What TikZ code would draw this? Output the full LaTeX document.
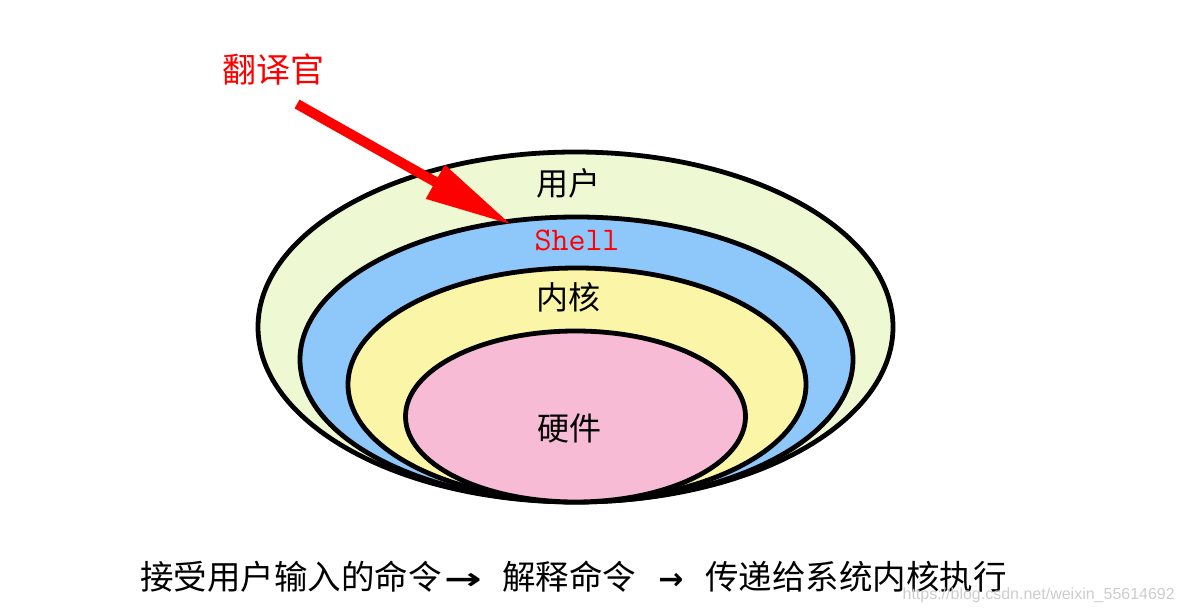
\documentclass[tikz,border=0pt]{standalone}
\usepackage{fontspec}
\usepackage{graphicx}
\newfontfamily\cjk{Noto Sans CJK SC}
\newfontfamily\wmfont{Liberation Sans}
\newfontfamily\arrowfont{DejaVu Sans}
\usetikzlibrary{arrows.meta}
\definecolor{usergreen}{RGB}{238,248,210}
\definecolor{shellblue}{RGB}{142,199,249}
\definecolor{kernelyellow}{RGB}{251,245,168}
\definecolor{hwpink}{RGB}{247,187,213}
\definecolor{wmgray}{RGB}{205,205,205}
\tikzset{
  layer/.style={draw=black, line width=4.8pt},
  lbl/.style={inner sep=0pt, font=\cjk\fontsize{32}{36}\selectfont},
  caption/.style={inner sep=0pt, text depth=0pt, anchor=base west, font=\cjk\fontsize{33.5}{38}\selectfont},
  capArrow/.style={inner sep=0pt, text depth=0pt, anchor=base, font=\arrowfont\bfseries\fontsize{30}{34}\selectfont},
  pointer/.style={draw=red, line width=10pt, -{Triangle[length=88pt,width=36pt]}},
}
\begin{document}
\begin{tikzpicture}[x=1pt,y=-1pt]
\useasboundingbox (0,0) rectangle (1184,612);
% layers
\draw[layer, fill=usergreen] (575.5,327) ellipse [x radius=317.5pt, y radius=175pt];
\draw[layer, fill=shellblue] (576.5,359.5) ellipse [x radius=276.5pt, y radius=142.5pt];
\draw[layer, fill=kernelyellow] (577,384.5) ellipse [x radius=229pt, y radius=116.5pt];
\draw[layer, fill=hwpink] (575.5,416.5) ellipse [x radius=170pt, y radius=85.5pt];
% labels
\node[lbl] (user) at (568,183) {用户};
\node[inner sep=0pt, text=red, font=\ttfamily\fontsize{33}{36}\selectfont] (shell) at (577,240) {Shell};
\node[lbl] (kernel) at (568,297) {内核};
\node[lbl] (hw) at (569,428) {硬件};
\node[lbl, text=red, font=\cjk\fontsize{34}{38}\selectfont] (trans) at (273,70) {翻译官};
% pointer arrow
\coordinate (pstart) at (297,104);
\coordinate (ptip) at (512,225);
\draw[pointer] (pstart) -- (ptip);
% caption
\node[caption] (c1) at (140,589) {接受用户输入的命令};
\node[capArrow] (a1) at (463,589) {\scalebox{1.5}[1]{→}};
\node[caption] (c2) at (502,589) {解释命令};
\node[capArrow] (a2) at (671,589) {→};
\node[caption] (c3) at (705,589) {传递给系统内核执行};
% watermark
\node[inner sep=0pt, anchor=base east, text height=8pt, text depth=0pt, text=wmgray, font=\wmfont\fontsize{16}{18}\selectfont] (wm) at (1175,599) {https://blog.csdn.net/weixin\_55614692};
\end{tikzpicture}
\end{document}
